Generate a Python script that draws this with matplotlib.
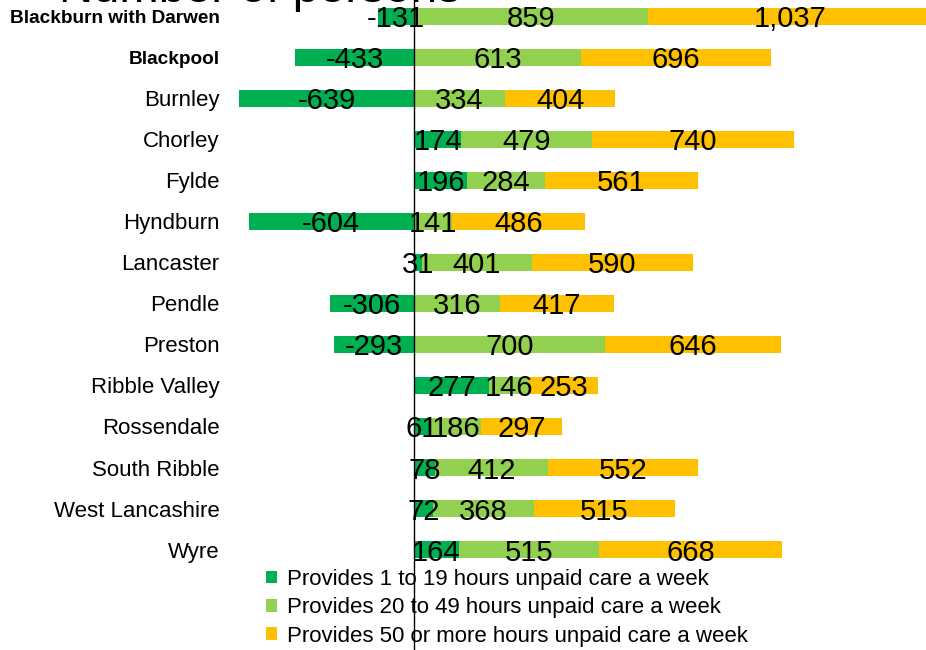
import numpy as np
import matplotlib.pyplot as plt
from matplotlib.patches import Patch

plt.rcParams['font.family'] = ['Liberation Sans', 'DejaVu Sans']

# datos
areas = ['Blackburn with Darwen', 'Blackpool', 'Burnley', 'Chorley', 'Fylde',
         'Hyndburn', 'Lancaster', 'Pendle', 'Preston', 'Ribble Valley',
         'Rossendale', 'South Ribble', 'West Lancashire', 'Wyre']
horas_1_19 = [-131, -433, -639, 174, 196, -604, 31, -306, -293, 277, 61, 78, 72, 164]
horas_20_49 = [859, 613, 334, 479, 284, 141, 401, 316, 700, 146, 186, 412, 368, 515]
horas_50 = [1037, 696, 404, 740, 561, 486, 590, 417, 646, 253, 297, 552, 515, 668]
series = ['Provides 1 to 19 hours unpaid care a week',
          'Provides 20 to 49 hours unpaid care a week',
          'Provides 50 or more hours unpaid care a week']
colores = ['#00B050', '#92D050', '#FFC000']
negritas = ['Blackburn with Darwen', 'Blackpool']

fig = plt.figure(figsize=(9.26, 6.5), dpi=100)
ax = fig.add_axes([228 / 926, 0, 1 - 228 / 926, 1])

y = np.arange(len(areas))
d1 = np.array(horas_1_19)
d2 = np.array(horas_20_49)
d3 = np.array(horas_50)
base2 = np.where(d1 > 0, d1, 0)
base3 = base2 + d2
alto = 0.4

ax.barh(y, d1, height=alto, color=colores[0])
ax.barh(y, d2, left=base2, height=alto, color=colores[1])
ax.barh(y, d3, left=base3, height=alto, color=colores[2])

for i in range(len(areas)):
    ax.text(d1[i] / 2, y[i], f'{d1[i]:,}', ha='center', va='center_baseline', fontsize=21)
    ax.text(base2[i] + d2[i] / 2, y[i], f'{d2[i]:,}', ha='center', va='center_baseline', fontsize=21)
    ax.text(base3[i] + d3[i] / 2, y[i], f'{d3[i]:,}', ha='center', va='center_baseline', fontsize=21)

ax.set_xlim(-680, 1875)
ax.set_ylim(15.45, -0.4)
ax.set_xticks([])
ax.set_yticks(y)
ax.set_yticklabels(areas)
for lab in ax.get_yticklabels():
    if lab.get_text() in negritas:
        lab.set_fontweight('bold')
        lab.set_fontsize(13.7)
    else:
        lab.set_fontsize(16)
ax.tick_params(axis='y', length=0, pad=6)
for s in ax.spines.values():
    s.set_visible(False)
ax.axvline(0, color='black', linewidth=1, zorder=10)

manejadores = [Patch(facecolor=c, edgecolor='none') for c in colores]
ax.legend(manejadores, series, loc='upper left', bbox_to_anchor=(266 / 926, 1 - 569 / 650),
          bbox_transform=fig.transFigure, frameon=False, fontsize=16,
          handlelength=0.48, handleheight=0.5, handletextpad=0.45, labelspacing=0.33,
          borderpad=0, borderaxespad=0)

fig.text(260 / 926, 1 - 2 / 650, 'Number of persons', ha='center', va='baseline', fontsize=34)

fig.savefig('out.png', dpi=100)
